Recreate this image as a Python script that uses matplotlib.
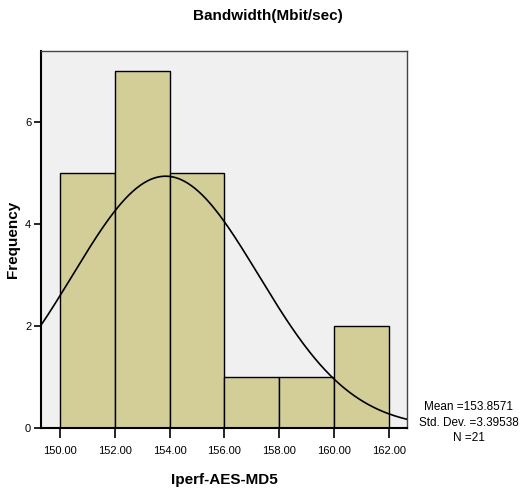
import numpy as np
import matplotlib.pyplot as plt
from matplotlib import font_manager

# histogram bins and counts
bin_edges = [150.0, 152.0, 154.0, 156.0, 158.0, 160.0, 162.0]
counts = [5, 7, 5, 1, 1, 2]
x_ticks = [150.0, 152.0, 154.0, 156.0, 158.0, 160.0, 162.0]
y_ticks = [0, 2, 4, 6]
mean_val = 153.8571
std_val = 3.39538
n_val = 21

nomes = [f.name for f in font_manager.fontManager.ttflist]
fonte = 'Liberation Sans Narrow' if 'Liberation Sans Narrow' in nomes else 'Liberation Sans'
plt.rcParams['font.family'] = [fonte, 'DejaVu Sans']

fig = plt.figure(figsize=(5.25, 4.91), dpi=100)
ax = fig.add_axes([0.078, 0.1283, 0.697, 0.768])
ax.set_facecolor('#f0f0f0')

larguras = np.diff(bin_edges)
ax.bar(bin_edges[:-1], counts, width=larguras, align='edge',
       color='#d3ce98', edgecolor='black', linewidth=1.0, zorder=2)

# normal curve scaled to the histogram
xmin, xmax = 149.31, 162.66
xs = np.linspace(xmin, xmax, 300)
escala = n_val * larguras[0]
ys = escala / (std_val * np.sqrt(2 * np.pi)) * np.exp(-0.5 * ((xs - mean_val) / std_val) ** 2)
ax.plot(xs, ys, color='black', linewidth=1.2, zorder=3)

ax.set_xlim(xmin, xmax)
ax.set_ylim(0, 7.39)
ax.set_xticks(x_ticks)
ax.set_xticklabels([f'{v:.2f}' for v in x_ticks], fontsize=8)
ax.set_yticks(y_ticks)
ax.set_yticklabels([str(v) for v in y_ticks], fontsize=8)
ax.tick_params(axis='x', length=7, width=1.2, direction='out', pad=6)
ax.tick_params(axis='y', length=5, width=1.2, direction='out', pad=2)

for lado in ['top', 'right']:
    ax.spines[lado].set_color('#444444')
    ax.spines[lado].set_linewidth(1.0)
for lado in ['left', 'bottom']:
    ax.spines[lado].set_color('black')
    ax.spines[lado].set_linewidth(1.5)

ax.set_xlabel('Iperf-AES-MD5', fontsize=11, fontweight='bold', labelpad=12)
ax.set_ylabel('Frequency', fontsize=11, fontweight='bold')
ax.yaxis.set_label_coords(-0.056, 0.5)
fig.text(0.51, 0.968, 'Bandwidth(Mbit/sec)', ha='center', va='center',
         fontsize=11, fontweight='bold')

fig.text(0.893, 0.139, f'Mean ={mean_val:.4f}\nStd. Dev. ={std_val:.5f}\nN ={n_val}',
         ha='center', va='center', fontsize=8.5, linespacing=1.4)

plt.savefig('out.png', dpi=100)
plt.close()
